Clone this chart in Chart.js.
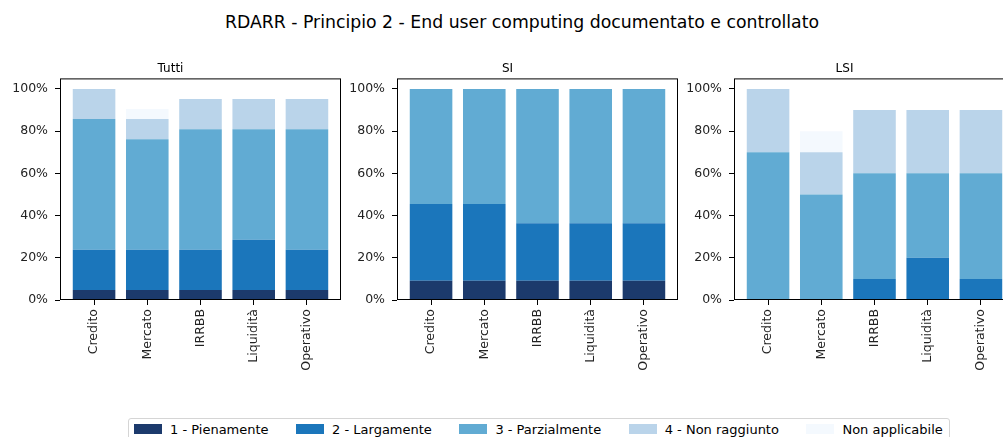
<!DOCTYPE html>
<html>
<head>
<meta charset="utf-8">
<script src="https://cdn.jsdelivr.net/npm/chart.js@4.4.0/dist/chart.umd.min.js"></script>
<style>
  body { margin: 0; width: 1003px; height: 437px; overflow: hidden; background: #fff; position: relative; font-family: 'DejaVu Sans', sans-serif; }
  #title { position: absolute; left: 0; top: 12px; width: 1044px; text-align: center; font-size: 17.3px; color: #000; }
  canvas { position: absolute; top: 55px; }
  #legend { position: absolute; left: 128px; top: 418px; width: 815px; height: 20px; padding-left: 5px; border: 1px solid #d5d5d5; border-radius: 3px; display: flex; align-items: center; font-size: 13px; color: #000; }
  .item { display: flex; align-items: center; margin-right: 27.5px; white-space: nowrap; }
  .sw { width: 28px; height: 10px; margin-right: 8px; }
</style>
</head>
<body>
<div id="title">RDARR - Principio 2 - End user computing documentato e controllato</div>
<canvas id="tutti" width="343" height="330" style="left:0px"></canvas>
<canvas id="si" width="343" height="330" style="left:337px"></canvas>
<canvas id="lsi" width="343" height="330" style="left:674px"></canvas>
<div id="legend"></div>
<script>
const categories = ['Credito', 'Mercato', 'IRRBB', 'Liquidità', 'Operativo'];
const levels = ['1 - Pienamente', '2 - Largamente', '3 - Parzialmente', '4 - Non raggiunto', 'Non applicabile'];
const colors = ['#1c3a6c', '#1b76bb', '#61abd3', '#bad4ea', '#f4f9fe'];
const yTicks = [0, 20, 40, 60, 80, 100];

// percentuali
const tuttiP1 = [4.76, 4.76, 4.76, 4.76, 4.76];
const tuttiP2 = [19.05, 19.05, 19.05, 23.81, 19.05];
const tuttiP3 = [61.90, 52.38, 57.14, 52.38, 57.14];
const tuttiP4 = [14.29, 9.52, 14.29, 14.29, 14.29];
const tuttiNA = [0, 4.76, 0, 0, 0];

const siP1 = [9.09, 9.09, 9.09, 9.09, 9.09];
const siP2 = [36.36, 36.36, 27.27, 27.27, 27.27];
const siP3 = [54.55, 54.55, 63.64, 63.64, 63.64];
const siP4 = [0, 0, 0, 0, 0];
const siNA = [0, 0, 0, 0, 0];

const lsiP1 = [0, 0, 0, 0, 0];
const lsiP2 = [0, 0, 10, 20, 10];
const lsiP3 = [70, 50, 50, 40, 50];
const lsiP4 = [30, 20, 30, 30, 30];
const lsiNA = [0, 10, 0, 0, 0];

const FONT = "'DejaVu Sans', sans-serif";

const frame = {
  id: 'frame',
  afterDraw(chart) {
    const { ctx, chartArea: a } = chart;
    ctx.save();
    ctx.strokeStyle = '#000';
    ctx.lineWidth = 1;
    ctx.strokeRect(a.left + 0.5, a.top + 0.5, a.width - 1, a.height - 1);
    ctx.restore();
  }
};

function makeChart(id, title, series) {
  const datasets = series.map((vals, k) => ({
    label: levels[k],
    data: vals.map((v, i) => ({ x: i, y: v })),
    backgroundColor: colors[k],
    borderWidth: 0,
    barPercentage: 1,
    categoryPercentage: 0.8,
  }));

  new Chart(document.getElementById(id), {
    type: 'bar',
    data: { datasets },
    options: {
      responsive: false,
      animation: false,
      layout: { padding: { left: 0, right: 2, top: 0, bottom: 0 } },
      plugins: {
        legend: { display: false },
        tooltip: { enabled: false },
        title: {
          display: true,
          text: title,
          color: '#000',
          font: { size: 12, family: FONT, weight: 'normal' },
          padding: { top: 7, bottom: 2 },
        },
      },
      scales: {
        x: {
          type: 'linear',
          stacked: true,
          min: -0.64,
          max: 4.64,
          offset: false,
          afterBuildTicks: s => { s.ticks = categories.map((c, i) => ({ value: i })); },
          afterFit: s => { s.height = 85; },
          ticks: {
            callback: v => categories[v],
            minRotation: 90,
            maxRotation: 90,
            autoSkip: false,
            includeBounds: false,
            color: '#222',
            font: { size: 12.5, family: FONT },
            padding: 4,
          },
          grid: { offset: false, drawOnChartArea: false, tickLength: 5, color: '#000' },
          border: { display: false },
        },
        y: {
          stacked: true,
          min: 0,
          max: 105,
          afterBuildTicks: s => { s.ticks = yTicks.map(v => ({ value: v })); },
          afterFit: s => { s.width = 60; },
          ticks: {
            callback: v => v + '%',
            color: '#222',
            font: { size: 12.5, family: FONT },
            padding: 7,
          },
          grid: { drawOnChartArea: false, tickLength: 5, color: '#000' },
          border: { display: false },
        },
      },
    },
    plugins: [frame],
  });
}

makeChart('tutti', 'Tutti', [tuttiP1, tuttiP2, tuttiP3, tuttiP4, tuttiNA]);
makeChart('si', 'SI', [siP1, siP2, siP3, siP4, siNA]);
makeChart('lsi', 'LSI', [lsiP1, lsiP2, lsiP3, lsiP4, lsiNA]);

const legend = document.getElementById('legend');
levels.forEach((name, k) => {
  const item = document.createElement('div');
  item.className = 'item';
  const sw = document.createElement('span');
  sw.className = 'sw';
  sw.style.background = colors[k];
  const txt = document.createElement('span');
  txt.textContent = name;
  item.appendChild(sw);
  item.appendChild(txt);
  legend.appendChild(item);
});
</script>
</body>
</html>
